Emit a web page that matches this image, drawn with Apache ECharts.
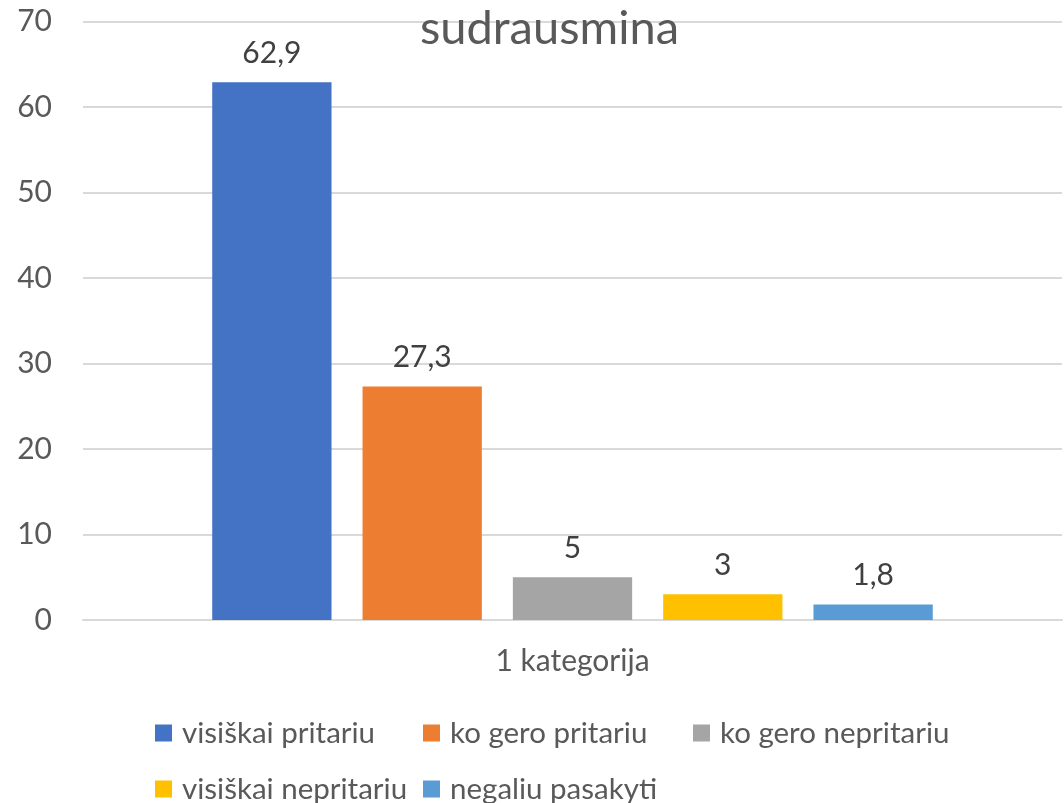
<!DOCTYPE html>
<html>
<head>
<meta charset="utf-8">
<script src="https://cdn.jsdelivr.net/npm/echarts@6/dist/echarts.min.js"></script>
<style>html,body{margin:0;padding:0;background:#fff}#c{width:1064px;height:803px}</style>
</head>
<body>
<div id="c"></div>
<script>
const categories = ['1 kategorija'];
const seriesNames = ['visiškai pritariu', 'ko gero pritariu', 'ko gero nepritariu', 'visiškai nepritariu', 'negaliu pasakyti'];
const seriesValues = [[62.9], [27.3], [5], [3], [1.8]];
const colors = ['#4472C4', '#ED7D31', '#A5A5A5', '#FFC000', '#5B9BD5'];
const yTicks = [0, 10, 20, 30, 40, 50, 60, 70];

const FONT = 'Lato';
const legendPos = [
  {left: 150, top: 713},
  {left: 418, top: 713},
  {left: 688, top: 713},
  {left: 150, top: 769},
  {left: 418, top: 769}
];

const chart = echarts.init(document.getElementById('c'), null, {renderer: 'canvas'});
chart.setOption({
  animation: false,
  title: {
    text: 'sudrausmina', left: 415, top: 0,
    textStyle: {fontFamily: FONT, fontSize: 47, fontWeight: 'normal', color: '#595959'}
  },
  legend: seriesNames.map((n, i) => ({
    data: [n], left: legendPos[i].left, top: legendPos[i].top,
    orient: 'horizontal', icon: 'rect', itemWidth: 17, itemHeight: 17,
    textStyle: {fontFamily: FONT, fontSize: 29.5, color: '#595959', padding: [0, 0, 0, 5]},
    selectedMode: false
  })),
  grid: {left: 83, right: 2, top: 21.5, bottom: 183, containLabel: false},
  xAxis: {
    type: 'category', data: categories,
    axisLine: {lineStyle: {color: '#D9D9D9', width: 2}},
    axisTick: {show: false},
    axisLabel: {fontFamily: FONT, fontSize: 30, color: '#595959', margin: 26}
  },
  yAxis: {
    type: 'value', min: yTicks[0], max: yTicks[yTicks.length - 1], interval: 10,
    axisLine: {show: false}, axisTick: {show: false},
    splitLine: {lineStyle: {color: '#D9D9D9', width: 2}},
    axisLabel: {fontFamily: FONT, fontSize: 30, color: '#595959', margin: 31}
  },
  series: seriesNames.map((n, i) => ({
    name: n, type: 'bar', data: seriesValues[i],
    barGap: '26%', barCategoryGap: '26.4%',
    itemStyle: {color: colors[i]},
    label: {
      show: true, position: 'top', distance: 14,
      fontFamily: FONT, fontSize: 30, color: '#404040',
      formatter: p => String(p.value).replace('.', ',')
    }
  }))
});
</script>
</body>
</html>
